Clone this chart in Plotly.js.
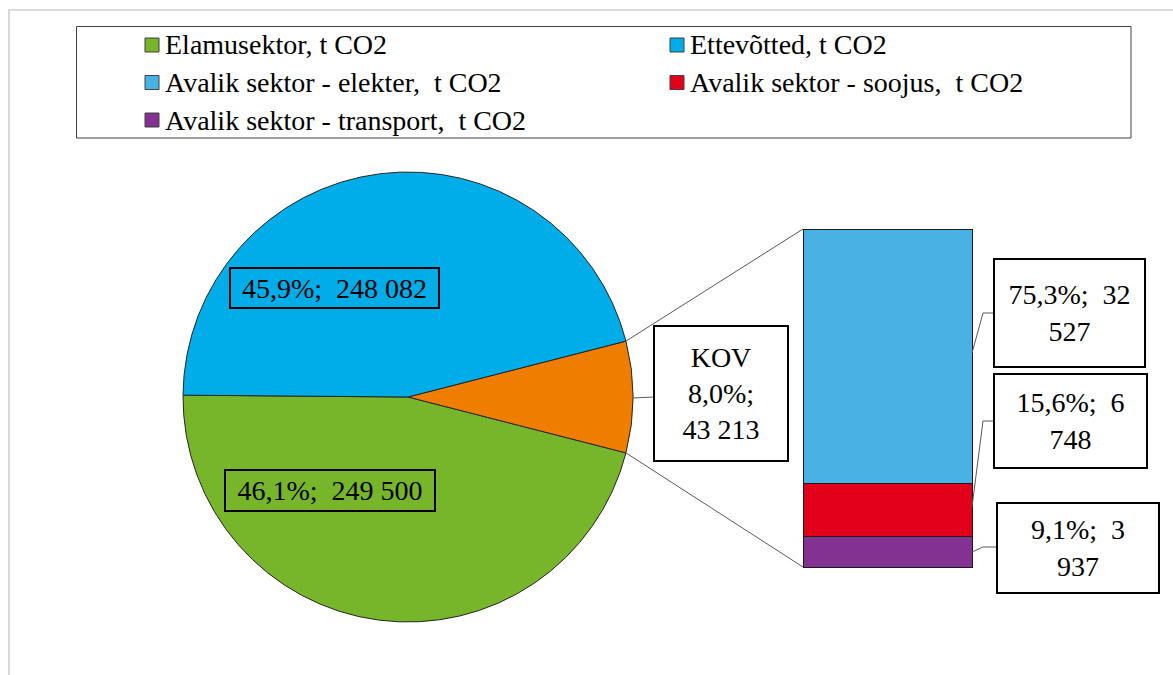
<!DOCTYPE html>
<html>
<head>
<meta charset="utf-8">
<script src="https://cdn.plot.ly/plotly-3.0.1.min.js"></script>
<style>html,body{margin:0;padding:0;background:#fff;}</style>
</head>
<body>
<div id="chart" style="width:1173px;height:675px;"></div>
<script>
// ---- data ----
const pieLabels = ['Elamusektor, t CO2', 'KOV', 'Ettevõtted, t CO2'];
const pieValues = [249500, 43213, 248082];
const pieColors = ['#77B52A', '#EF7D00', '#00ADE9'];

const barLabels = ['Avalik sektor - transport,\u00a0 t CO2', 'Avalik sektor - soojus,\u00a0 t CO2', 'Avalik sektor - elekter,\u00a0 t CO2'];
const barValues = [3937, 6748, 32527];
const barColors = ['#833291', '#E2001A', '#4AB1E4'];

const legendLabels = ['Elamusektor, t CO2', 'Ettevõtted, t CO2', 'Avalik sektor - elekter,\u00a0 t CO2', 'Avalik sektor - soojus,\u00a0 t CO2', 'Avalik sektor - transport,\u00a0 t CO2'];
const legendColors = ['#77B52A', '#00ADE9', '#4AB1E4', '#E2001A', '#833291'];

// ---- geometry (pixels) ----
const W = 1173, H = 675;
const FONT = '"Liberation Serif", "Times New Roman", serif';
const px = x => x / W;
const py = y => 1 - y / H;

const pieC = {x: 408, y: 397, r: 225};
const barBox = {x0: 803, x1: 972, yTop: 229, yBot: 567};

// ---- helpers ----
const pieTotal = pieValues.reduce((a, b) => a + b, 0);
const barTotal = barValues.reduce((a, b) => a + b, 0);
function fmtPct(v, t) { return (100 * v / t).toFixed(1).replace('.', ','); }
function fmtNum(v) { return String(Math.round(v)).replace(/\B(?=(\d{3})+(?!\d))/g, '\u00a0'); }

// KOV slice centred on the horizontal to the right
const kovIdx = 1;
const before = pieValues.slice(0, kovIdx).reduce((a, b) => a + b, 0);
const startMath = -360 * (before + pieValues[kovIdx] / 2) / pieTotal; // math angle where first slice starts (ccw)
// plotly (counterclockwise): first slice spans clockwise angles [rotation, rotation + theta0]
const rotation = (90 - startMath) - 360 * pieValues[0] / pieTotal;
const halfKov = Math.PI * pieValues[kovIdx] / pieTotal; // radians

// bar axis ranges so that the bar fills barBox exactly
const xDomPx = [barBox.x0 - 6, barBox.x1 + 6];
const pxPerUnit = (barBox.x1 - barBox.x0);
const xHalf = (xDomPx[1] - xDomPx[0]) / pxPerUnit / 2;
const yDomPx = [barBox.yTop - 6, barBox.yBot + 6];
const uPerPx = barTotal / (barBox.yBot - barBox.yTop);
const yRange = [-(yDomPx[1] - barBox.yBot) * uPerPx, barTotal + (barBox.yTop - yDomPx[0]) * uPerPx];
function barY(v) { return barBox.yBot - v / uPerPx; }

// ---- traces ----
const traces = [];
traces.push({
  type: 'pie',
  labels: pieLabels,
  values: pieValues,
  sort: false,
  direction: 'counterclockwise',
  rotation: rotation,
  marker: {colors: pieColors, line: {color: '#262626', width: 1}},
  textinfo: 'none',
  hoverinfo: 'label+value+percent',
  showlegend: false,
  domain: {x: [px(pieC.x - pieC.r), px(pieC.x + pieC.r)], y: [py(pieC.y + pieC.r), py(pieC.y - pieC.r)]}
});
barValues.forEach((v, i) => {
  traces.push({
    type: 'bar',
    x: [0], y: [v], width: [1],
    name: barLabels[i],
    marker: {color: barColors[i], line: {color: '#1a1a1a', width: 1}},
    showlegend: false,
    hoverinfo: 'name+y',
    xaxis: 'x', yaxis: 'y'
  });
});

// ---- shapes ----
const shapes = [];
const lineGray = {color: '#595959', width: 1};
shapes.push({type: 'rect', xref: 'paper', yref: 'paper', x0: px(9), x1: px(1200), y0: py(10), y1: py(720), line: {color: '#d9d9d9', width: 2}});
shapes.push({type: 'rect', xref: 'paper', yref: 'paper', x0: px(76.5), x1: px(1131), y0: py(26.5), y1: py(138), line: {color: '#404040', width: 1}});
const topPt = {x: pieC.x + pieC.r * Math.cos(halfKov), y: pieC.y - pieC.r * Math.sin(halfKov)};
const botPt = {x: pieC.x + pieC.r * Math.cos(halfKov), y: pieC.y + pieC.r * Math.sin(halfKov)};
shapes.push({type: 'line', xref: 'paper', yref: 'paper', x0: px(topPt.x), y0: py(topPt.y), x1: px(barBox.x0), y1: py(barY(barTotal)), line: lineGray});
shapes.push({type: 'line', xref: 'paper', yref: 'paper', x0: px(botPt.x), y0: py(botPt.y), x1: px(barBox.x0), y1: py(barY(0)), line: lineGray});
function poly(pts) {
  return {type: 'path', xref: 'paper', yref: 'paper', line: lineGray,
    path: pts.map((p, i) => (i ? 'L' : 'M') + px(p[0]) + ',' + py(p[1])).join(' ')};
}
shapes.push(poly([[pieC.x + pieC.r, pieC.y + 1], [653, 397]]));
shapes.push(poly([[barBox.x1, 353], [983, 313], [993, 313]]));
shapes.push(poly([[barBox.x1, 507], [983, 421], [993, 421]]));
shapes.push(poly([[barBox.x1, 552], [983, 547], [996, 547]]));

// ---- annotations ----
const annotations = [];
const legendPos = [[145, 45], [670, 45], [145, 82.5], [670, 82.5], [145, 120]];
legendLabels.forEach((lab, i) => {
  const [sx, sy] = legendPos[i];
  shapes.push({type: 'rect', xref: 'paper', yref: 'paper', x0: px(sx), x1: px(sx + 14), y0: py(sy - 7), y1: py(sy + 7),
    fillcolor: legendColors[i], line: {color: '#404040', width: 1}});
  annotations.push({xref: 'paper', yref: 'paper', x: px(sx + 18), y: py(sy), xanchor: 'left', yanchor: 'middle',
    text: lab, showarrow: false, font: {family: FONT, size: 28, color: '#000'}});
});
function box(cx, cy, w, h, text, bg) {
  annotations.push({xref: 'paper', yref: 'paper', x: px(cx), y: py(cy), xanchor: 'center', yanchor: 'middle',
    text: text, showarrow: false, width: w - 4, height: h - 4, borderpad: 0, borderwidth: 2,
    bordercolor: '#000', bgcolor: bg, align: 'center', valign: 'middle',
    font: {family: FONT, size: 28, color: '#000'}});
}
box(334.5, 288, 211, 42, fmtPct(pieValues[2], pieTotal) + '%;\u00a0 ' + fmtNum(pieValues[2]), 'rgba(0,0,0,0)');
box(330, 490.5, 212, 43, fmtPct(pieValues[0], pieTotal) + '%;\u00a0 ' + fmtNum(pieValues[0]), 'rgba(0,0,0,0)');
box(721, 393.5, 136, 137, pieLabels[1] + '<br>' + fmtPct(pieValues[1], pieTotal) + '%;<br>' + fmtNum(pieValues[1]), '#fff');
function barLab(i) {
  const n = fmtNum(barValues[i]).split('\u00a0');
  return fmtPct(barValues[i], barTotal) + '%;\u00a0 ' + n[0] + '<br>' + n.slice(1).join(' ');
}
box(1069.5, 313, 153, 110, barLab(2), '#fff');
box(1070.5, 421, 155, 96, barLab(1), '#fff');
box(1078, 548, 164, 92, barLab(0), '#fff');

const layout = {
  width: W, height: H,
  margin: {l: 0, r: 0, t: 0, b: 0},
  paper_bgcolor: '#fff', plot_bgcolor: 'rgba(0,0,0,0)',
  barmode: 'stack',
  showlegend: false,
  xaxis: {domain: [px(xDomPx[0]), px(xDomPx[1])], range: [-xHalf, xHalf], visible: false, fixedrange: true},
  yaxis: {domain: [py(yDomPx[1]), py(yDomPx[0])], range: yRange, visible: false, fixedrange: true},
  shapes: shapes,
  annotations: annotations,
  font: {family: FONT}
};

Plotly.newPlot('chart', traces, layout, {displayModeBar: false, staticPlot: true});
</script>
</body>
</html>
